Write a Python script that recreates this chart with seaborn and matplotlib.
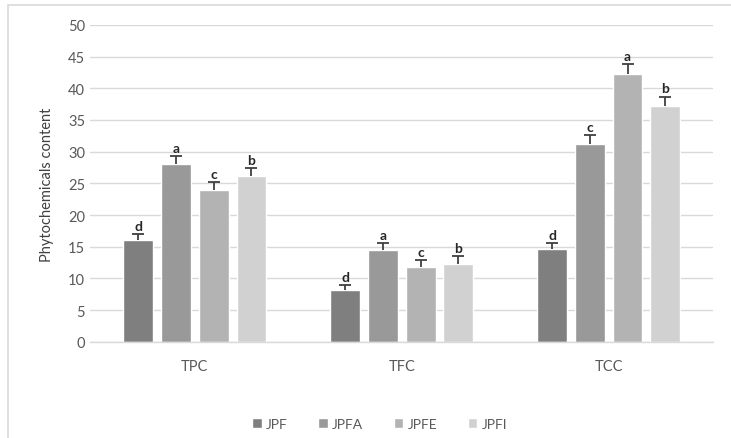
import matplotlib
matplotlib.use("Agg")
import matplotlib.pyplot as plt
from matplotlib.patches import Rectangle
import seaborn as sns
import pandas as pd

# values
assays = ['TPC', 'TFC', 'TCC']
samples = ['JPF', 'JPFA', 'JPFE', 'JPFI']
means = {
    'JPF':  [16.1, 8.2, 14.7],
    'JPFA': [28.0, 14.5, 31.2],
    'JPFE': [24.0, 11.8, 42.3],
    'JPFI': [26.2, 12.3, 37.2],
}
errs = {
    'JPF':  [0.9, 0.8, 0.9],
    'JPFA': [1.3, 1.1, 1.4],
    'JPFE': [1.2, 1.1, 1.5],
    'JPFI': [1.2, 1.2, 1.5],
}
letters = {
    'JPF':  ['d', 'd', 'd'],
    'JPFA': ['a', 'a', 'c'],
    'JPFE': ['c', 'c', 'a'],
    'JPFI': ['b', 'b', 'b'],
}
colors = ['#7f7f7f', '#999999', '#b3b3b3', '#d1d1d1']

rows = []
for s in samples:
    for a, m in zip(assays, means[s]):
        rows.append({'assay': a, 'sample': s, 'value': m})
df = pd.DataFrame(rows)

sns.set_style('white')
plt.rcParams['font.family'] = ['Lato', 'DejaVu Sans']

fig = plt.figure(figsize=(7.31, 4.39), dpi=100)
ax = fig.add_axes([0.123, 0.219, 0.852, 0.722])

sns.barplot(data=df, x='assay', y='value', hue='sample', order=assays,
            hue_order=samples, palette=colors, width=0.73, gap=0.21,
            errorbar=None, saturation=1, ax=ax)

# upper-only error bars (Excel "plus" style) and significance letters
cap = 0.029
for s, cont in zip(samples, ax.containers):
    for bar, e, lab in zip(cont, errs[s], letters[s]):
        x = bar.get_x() + bar.get_width() / 2
        h = bar.get_height()
        ax.plot([x, x], [h, h + e], color='#404040', lw=1.3, solid_capstyle='butt')
        ax.plot([x - cap, x + cap], [h + e, h + e], color='#404040', lw=1.3,
                solid_capstyle='butt')
        ax.text(x, h + e + 0.35, lab, ha='center', va='bottom',
                fontsize=10, fontweight='bold', color='#262626')

ax.set_ylim(0, 50)
ax.set_xlim(-0.507, 2.503)
ax.set_yticks(range(0, 51, 5))
ax.yaxis.grid(True, color='#d9d9d9', linewidth=1)
ax.set_axisbelow(True)
for sp in ['top', 'right', 'left']:
    ax.spines[sp].set_visible(False)
ax.spines['bottom'].set_color('#d9d9d9')
ax.spines['bottom'].set_linewidth(1)
ax.tick_params(axis='both', length=0, labelsize=10.5, colors='#595959')
ax.tick_params(axis='x', pad=12)
ax.set_xlabel('')
ax.set_ylabel('Phytochemicals content', fontsize=10.5, color='#404040', labelpad=10)

ax.legend(loc='upper center', bbox_to_anchor=(0.465, -0.2), ncol=4, frameon=False,
          fontsize=10, handlelength=0.7, handleheight=0.7, handletextpad=0.3,
          columnspacing=2.2, labelcolor='#595959')

fig.add_artist(Rectangle((0.011, -0.05), 1.1, 1.037, transform=fig.transFigure,
                         fill=False, edgecolor='#d9d9d9', linewidth=1.2))

fig.savefig('out.png', dpi=100)
